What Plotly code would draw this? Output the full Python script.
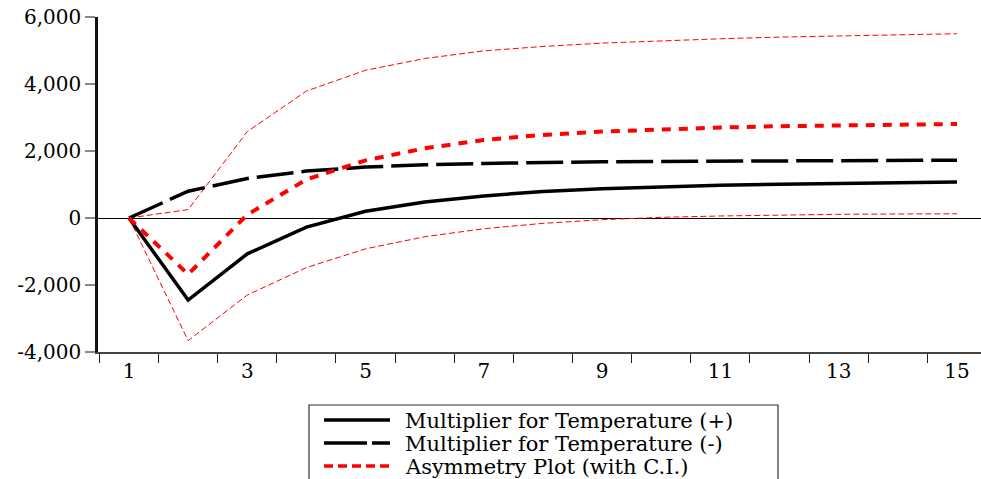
import plotly.graph_objects as go

periods = list(range(1, 16))
mult_pos = [0, -2450, -1070, -270, 200, 480, 660, 790, 870, 930, 980, 1010, 1040, 1060, 1075]
mult_neg = [0, 800, 1180, 1400, 1520, 1590, 1630, 1660, 1680, 1690, 1700, 1705, 1710, 1715, 1725]
asym = [0, -1680, 100, 1150, 1720, 2080, 2330, 2480, 2580, 2650, 2700, 2740, 2770, 2790, 2805]
ci_upper = [0, 250, 2580, 3790, 4410, 4760, 4990, 5120, 5220, 5290, 5350, 5400, 5440, 5470, 5500]
ci_lower = [0, -3660, -2300, -1480, -920, -560, -320, -160, -50, 20, 60, 90, 110, 120, 125]

x_labels = [1, 3, 5, 7, 9, 11, 13, 15]
y_ticks = [-4000, -2000, 0, 2000, 4000, 6000]
y_labels = ["-4,000", "-2,000", "0", "2,000", "4,000", "6,000"]

legend_names = ["Multiplier for Temperature (+)", "Multiplier for Temperature (-)", "Asymmetry Plot (with C.I.)"]
legend_colors = ["black", "black", "red"]
legend_dashes = ["solid", "43px,5px", "9px,5px"]

serif = "'DejaVu Serif', 'Liberation Serif', serif"

W, H = 981, 479
ML, MR, MT, MB = 98, 0, 17, 127
PW, PH = W - ML - MR, H - MT - MB


def px(xp):
    return (xp - ML) / PW


def py(yp):
    return (H - MB - yp) / PH


fig = go.Figure()
fig.add_trace(go.Scatter(x=periods, y=ci_upper, mode="lines", showlegend=False,
                         line=dict(color="red", width=1, dash="6px,3px")))
fig.add_trace(go.Scatter(x=periods, y=ci_lower, mode="lines", showlegend=False,
                         line=dict(color="red", width=1, dash="6px,3px")))
fig.add_trace(go.Scatter(x=periods, y=mult_pos, mode="lines", showlegend=False,
                         name=legend_names[0], line=dict(color="black", width=3.5)))
fig.add_trace(go.Scatter(x=periods, y=mult_neg, mode="lines", showlegend=False,
                         name=legend_names[1], line=dict(color="black", width=3.5, dash="37px,8px")))
fig.add_trace(go.Scatter(x=periods, y=asym, mode="lines", showlegend=False,
                         name=legend_names[2], line=dict(color="red", width=4, dash="9px,8px")))

# manual legend box (cut off at the bottom like the reference)
shapes = [dict(type="rect", xref="paper", yref="paper",
               x0=px(309), x1=px(778), y0=py(405), y1=py(500),
               line=dict(color="#333333", width=1.2), fillcolor="white", layer="above")]
annotations = []
row_y = [420, 443, 466]
for name, col, dash, ry in zip(legend_names, legend_colors, legend_dashes, row_y):
    shapes.append(dict(type="line", xref="paper", yref="paper",
                       x0=px(324), x1=px(390), y0=py(ry), y1=py(ry),
                       line=dict(color=col, width=3.5, dash=dash), layer="above"))
    annotations.append(dict(xref="paper", yref="paper", x=px(403), y=py(ry + 1),
                            xanchor="left", yanchor="middle", showarrow=False,
                            text=name, font=dict(family=serif, size=21, color="black")))

fig.update_layout(
    width=W, height=H,
    margin=dict(l=ML, r=MR, t=MT, b=MB, autoexpand=False),
    paper_bgcolor="white", plot_bgcolor="white",
    font=dict(family=serif, size=20, color="black"),
    showlegend=False,
    shapes=shapes, annotations=annotations,
    xaxis=dict(range=[0.476, 15.406], tickvals=x_labels, ticktext=[str(v) for v in x_labels],
               ticks="", ticklabelstandoff=0, showgrid=False, zeroline=False, showline=True,
               linecolor="#444444", linewidth=1.5, tickfont=dict(family=serif, size=20),
               minor=dict(tick0=0.5, dtick=1, ticks="outside", ticklen=9, tickcolor="#222222",
                          tickwidth=1.2, showgrid=False)),
    yaxis=dict(range=[-4000, 6000], tickvals=y_ticks, ticktext=y_labels,
               ticks="outside", ticklen=10, tickcolor="#888888", tickwidth=1.5,
               showgrid=False, zeroline=True, zerolinecolor="black", zerolinewidth=1,
               showline=True, linecolor="#111111", linewidth=2.5,
               tickfont=dict(family=serif, size=20)),
)

fig.write_html("out.html")
